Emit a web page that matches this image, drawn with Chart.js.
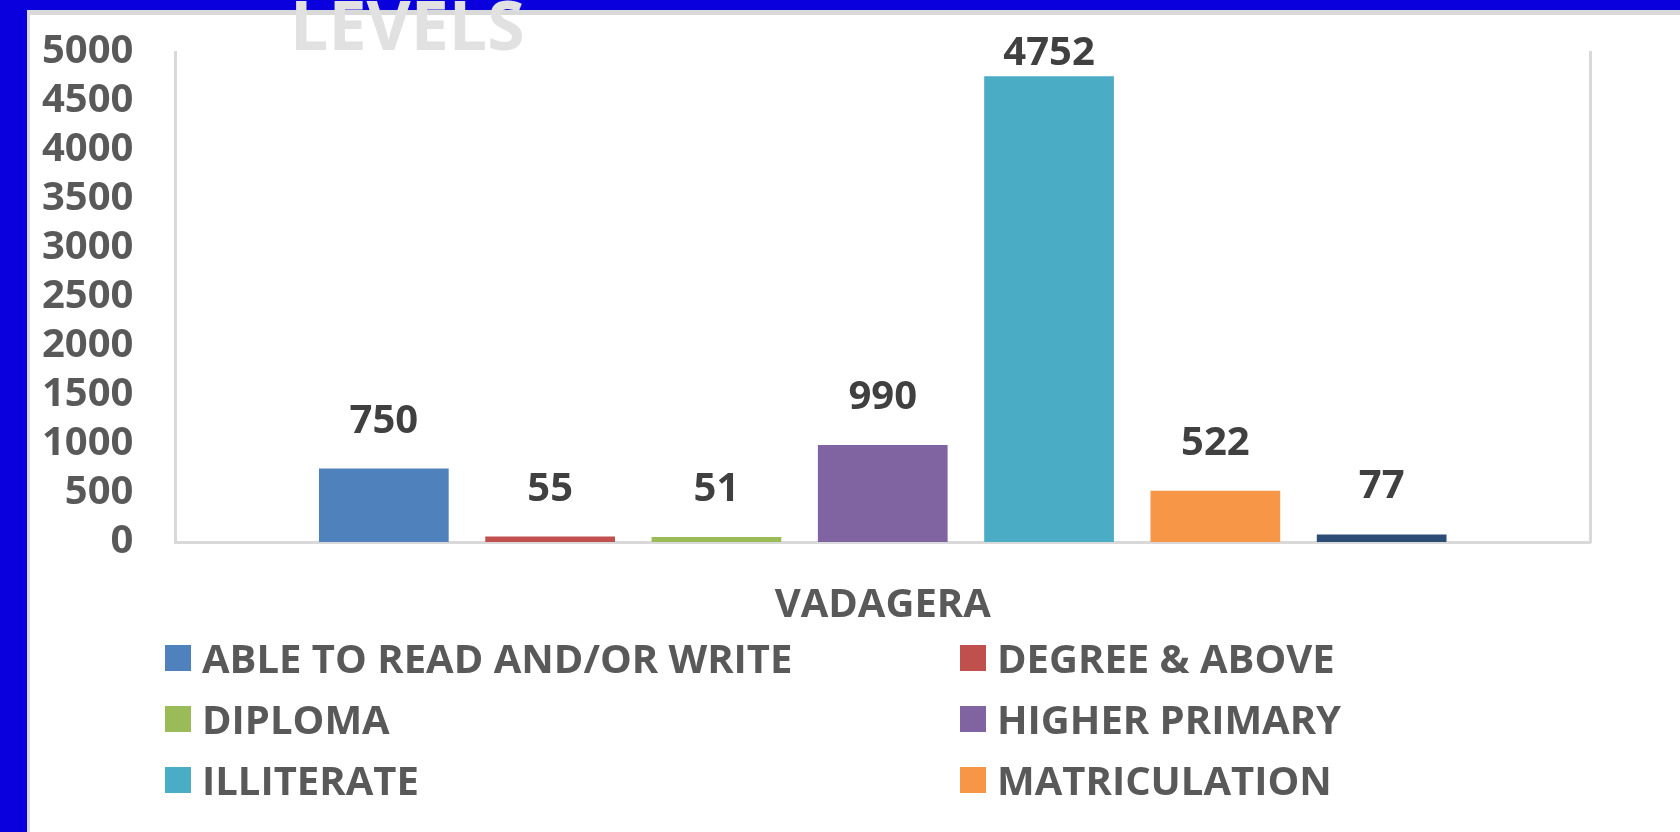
<!DOCTYPE html>
<html>
<head>
<meta charset="utf-8">
<script src="https://cdn.jsdelivr.net/npm/chart.js@4.4.1/dist/chart.umd.min.js"></script>
<style>
  html, body { margin: 0; padding: 0; width: 1680px; height: 832px; overflow: hidden; background: #0a00de; font-family: "Open Sans", sans-serif; }
  #panel { position: absolute; left: 27px; top: 10px; width: 1653px; height: 822px; box-sizing: border-box; background: #fff; border-top: 5px solid #d9d9d9; border-left: 3px solid #d9d9d9; overflow: hidden; }
  /* the canvas starts at the page corner so the plot lines up with the frame */
  #chart { position: absolute; left: -30px; top: -29px; }
  #title { position: absolute; left: 290px; top: -10px; font: 700 68px/68px "Open Sans"; color: #e1e1e1; white-space: nowrap; z-index: 2; }
  #legend { position: absolute; left: 135px; top: 612px; width: 1400px; height: 183px; overflow: hidden; display: grid; grid-template-columns: 795px 600px; grid-auto-rows: 61px; }
  .item { display: flex; align-items: center; font: 700 40px/61px "Open Sans"; color: #595959; white-space: nowrap; }
  .box { width: 26px; height: 26px; margin-right: 11px; flex: none; }
</style>
</head>
<body>
<div id="title">LEVELS</div>
<div id="panel">
  <canvas id="chart" width="1680" height="684"></canvas>
  <div id="legend"></div>
</div>
<script>
// one village, seven education levels
var categories = ['VADAGERA'];
var levelNames = ['ABLE TO READ AND/OR WRITE', 'DEGREE & ABOVE', 'DIPLOMA', 'HIGHER PRIMARY', 'ILLITERATE', 'MATRICULATION', 'PUC'];
var levelValues = [750, 55, 51, 990, 4752, 522, 77];
var levelColors = ['#4f81bd', '#c0504d', '#9bbb59', '#8064a2', '#4bacc6', '#f79646', '#2c4d75'];
var yMin = 0, yMax = 5000, yStep = 500;

var tickFont = { family: 'Open Sans', size: 40, weight: '700' };

// value on top of each bar (kept inside the chart like Excel does)
var valueLabels = {
    id: 'valueLabels',
    afterDatasetsDraw: function(chart) {
        var ctx = chart.ctx;
        ctx.save();
        ctx.font = '700 40px "Open Sans"';
        ctx.fillStyle = '#404040';
        ctx.textAlign = 'center';
        ctx.textBaseline = 'alphabetic';
        chart.data.datasets.forEach(function(ds, i) {
            chart.getDatasetMeta(i).data.forEach(function(bar, j) {
                var y = Math.max(bar.y - 36, chart.chartArea.top + 13);
                ctx.fillText(ds.data[j], bar.x, y);
            });
        });
        ctx.restore();
    }
};

var datasets = levelNames.map(function(name, i) {
    return {
        label: name,
        data: [levelValues[i]],
        backgroundColor: levelColors[i],
        categoryPercentage: 0.823,
        barPercentage: 0.78
    };
});

var ctx = document.getElementById('chart').getContext('2d');
var levelChart = new Chart(ctx, {
    type: 'bar',
    data: { labels: categories, datasets: datasets },
    options: {
        responsive: false,
        animation: false,
        devicePixelRatio: 1,
        layout: { padding: { left: 0, right: 90, top: 0, bottom: 0 } },
        plugins: { legend: { display: false }, title: { display: false }, tooltip: { enabled: false } },
        scales: {
            x: {
                grid: { display: false, drawTicks: false },
                border: { display: true, color: '#d9d9d9', width: 3 },
                ticks: { font: tickFont, color: '#595959', padding: 40 }
            },
            y: {
                min: yMin, max: yMax,
                grid: { display: false, drawTicks: false },
                border: { display: true, color: '#d9d9d9', width: 3 },
                ticks: {
                    stepSize: yStep, autoSkip: false, font: tickFont, color: '#595959', padding: 42,
                    callback: function(v) { return String(v); }
                }
            },
            y2: {
                position: 'right',
                min: yMin, max: yMax,
                grid: { display: false, drawTicks: false },
                border: { display: true, color: '#d9d9d9', width: 3 },
                ticks: { display: false }
            }
        }
    },
    plugins: [valueLabels]
});

// legend laid out in two columns, only three rows fit like the original
var legend = document.getElementById('legend');
levelNames.forEach(function(name, i) {
    var item = document.createElement('div');
    item.className = 'item';
    var box = document.createElement('span');
    box.className = 'box';
    box.style.background = levelColors[i];
    item.appendChild(box);
    item.appendChild(document.createTextNode(name));
    legend.appendChild(item);
});
</script>
</body>
</html>
